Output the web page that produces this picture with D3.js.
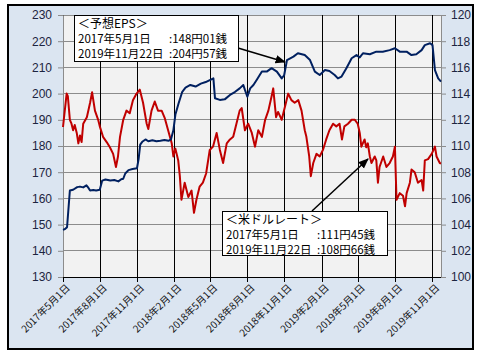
<!DOCTYPE html>
<html><head><meta charset="utf-8">
<script src="https://cdn.jsdelivr.net/npm/d3@7"></script>
<style>html,body{margin:0;padding:0;background:#fff;}svg{display:block;}</style>
</head><body>
<svg id="c" width="480" height="360"></svg>
<script>
// ---- data ----
const xTickDates = ["2017-05-01","2017-08-01","2017-11-01","2018-02-01","2018-05-01","2018-08-01","2018-11-01","2019-02-01","2019-05-01","2019-08-01","2019-11-01"];
const xTickLabels = ["2017年5月1日","2017年8月1日","2017年11月1日","2018年2月1日","2018年5月1日","2018年8月1日","2018年11月1日","2019年2月1日","2019年5月1日","2019年8月1日","2019年11月1日"];
const leftTicks = [130,140,150,160,170,180,190,200,210,220,230];
const rightTicks = [100,102,104,106,108,110,112,114,116,118,120];

// 予想EPS (left axis, 円)
const eps = [
["2017-05-01",148.01],["2017-05-06",148.3],["2017-05-11",149],["2017-05-14",155],["2017-05-18",163.0],
["2017-05-26",163.3],["2017-06-05",164.3],["2017-06-12",164.5],["2017-06-20",164.2],["2017-06-28",165.0],
["2017-07-03",164.0],["2017-07-07",163.0],["2017-07-15",163.2],["2017-07-22",163.0],["2017-07-31",163.3],
["2017-08-06",166.8],["2017-08-14",167.2],["2017-08-26",166.8],["2017-09-05",167.0],["2017-09-15",166.5],
["2017-09-22",167.3],["2017-09-27",167.5],["2017-10-02",169.5],["2017-10-10",170.8],["2017-10-20",171.2],
["2017-10-31",171.5],["2017-11-04",175],["2017-11-08",180.5],["2017-11-13",181.6],["2017-11-21",182.5],
["2017-11-28",181.8],["2017-12-08",182.2],["2017-12-18",181.8],["2017-12-28",182.0],["2018-01-07",182.3],
["2018-01-17",182.0],["2018-01-23",182.5],["2018-01-29",186],["2018-02-03",192],["2018-02-11",196.3],
["2018-02-20",200.7],["2018-02-28",202.3],["2018-03-12",203.3],["2018-03-25",202.7],["2018-04-07",203.8],
["2018-04-19",204.4],["2018-05-08",205.8],["2018-05-12",198.2],["2018-05-24",197.6],["2018-06-05",197.8],
["2018-06-18",199.5],["2018-06-30",200.6],["2018-07-12",202.0],["2018-07-21",203.3],["2018-07-25",201.4],
["2018-07-31",198.8],["2018-08-07",202.0],["2018-08-15",203.3],["2018-08-23",205.2],["2018-09-05",208.4],
["2018-09-17",208.4],["2018-09-29",209.7],["2018-10-12",208.4],["2018-10-24",205.8],["2018-10-30",207.0],
["2018-11-06",212.8],["2018-11-22",214.1],["2018-12-03",215.4],["2018-12-20",214.7],["2019-01-02",212.8],
["2019-01-14",208.4],["2019-01-26",207.1],["2019-02-08",209.0],["2019-02-19",208.6],["2019-03-04",207.1],
["2019-03-12",205.8],["2019-03-21",206.5],["2019-04-02",209.7],["2019-04-15",213.5],["2019-04-27",214.7],
["2019-05-05",213.8],["2019-05-13",215.4],["2019-05-30",215.0],["2019-06-15",216.0],["2019-07-01",216.0],
["2019-07-18",216.6],["2019-07-31",217.3],["2019-08-12",216.0],["2019-08-29",216.0],["2019-09-10",214.7],
["2019-09-22",215.0],["2019-10-05",216.6],["2019-10-13",218.5],["2019-10-26",219.2],["2019-11-01",218.5],
["2019-11-07",209.0],["2019-11-15",205.8],["2019-11-22",204.57]
];

// 米ドルレート (right axis, 円)
const usdjpy = [
["2017-05-01",111.45],["2017-05-10",114.0],["2017-05-13",113.8],["2017-05-18",112.0],["2017-05-22",111.7],
["2017-05-26",111.2],["2017-05-30",111.6],["2017-06-04",111.0],["2017-06-08",110.2],["2017-06-12",110.8],
["2017-06-16",110.3],["2017-06-20",111.7],["2017-06-29",112.2],["2017-07-07",113.3],["2017-07-12",114.1],
["2017-07-19",112.7],["2017-07-27",112.0],["2017-07-31",111.5],["2017-08-08",110.7],["2017-08-17",110.3],
["2017-08-25",109.9],["2017-09-02",109.4],["2017-09-09",108.4],["2017-09-14",109.2],["2017-09-19",110.7],
["2017-09-27",112.0],["2017-10-05",112.7],["2017-10-13",112.5],["2017-10-21",113.5],["2017-10-30",114.0],
["2017-11-07",114.3],["2017-11-15",113.3],["2017-11-24",111.7],["2017-11-28",111.3],["2017-12-06",112.7],
["2017-12-14",113.4],["2017-12-22",112.7],["2017-12-31",112.7],["2018-01-08",112.1],["2018-01-16",111.2],
["2018-01-25",110.2],["2018-01-29",109.2],["2018-02-03",109.8],["2018-02-10",108.9],["2018-02-14",107.7],
["2018-02-18",105.9],["2018-02-26",107.2],["2018-03-07",106.1],["2018-03-15",106.6],["2018-03-21",104.9],
["2018-03-27",105.9],["2018-04-04",106.9],["2018-04-12",107.2],["2018-04-20",107.9],["2018-04-29",109.7],
["2018-05-07",109.95],["2018-05-16",111.0],["2018-05-24",109.7],["2018-06-01",108.7],["2018-06-10",110.2],
["2018-06-18",110.5],["2018-06-26",110.7],["2018-07-04",111.7],["2018-07-12",112.7],["2018-07-17",112.9],
["2018-07-25",111.2],["2018-08-02",111.7],["2018-08-11",111.0],["2018-08-19",109.95],["2018-08-27",111.2],
["2018-09-05",110.7],["2018-09-13",112.0],["2018-09-21",112.7],["2018-09-29",113.8],["2018-10-03",114.4],
["2018-10-10",112.2],["2018-10-15",112.6],["2018-10-24",112.0],["2018-11-01",113.0],["2018-11-09",114.0],
["2018-11-17",113.5],["2018-11-25",113.3],["2018-12-04",113.5],["2018-12-12",112.7],["2018-12-20",111.2],
["2018-12-24",110.7],["2018-12-31",109.2],["2019-01-04",107.7],["2019-01-10",108.7],["2019-01-18",109.4],
["2019-01-26",109.2],["2019-02-03",109.7],["2019-02-11",110.5],["2019-02-19",111.2],["2019-02-28",111.7],
["2019-03-08",111.5],["2019-03-16",111.7],["2019-03-22",110.5],["2019-03-28",111.5],["2019-04-06",111.7],
["2019-04-15",112.0],["2019-04-23",112.0],["2019-04-30",111.7],["2019-05-05",111.0],["2019-05-09",109.95],
["2019-05-17",110.5],["2019-05-21",109.9],["2019-05-25",110.2],["2019-05-30",109.2],["2019-06-03",108.7],
["2019-06-11",109.2],["2019-06-15",108.9],["2019-06-19",107.2],["2019-06-23",108.4],["2019-07-02",109.2],
["2019-07-10",108.4],["2019-07-18",108.7],["2019-07-26",109.2],["2019-07-31",109.95],["2019-08-04",105.9],
["2019-08-12",106.4],["2019-08-20",106.2],["2019-08-25",105.4],["2019-08-29",106.4],["2019-09-06",107.2],
["2019-09-10",108.2],["2019-09-18",108.0],["2019-09-26",107.2],["2019-10-05",107.4],["2019-10-09",106.6],
["2019-10-13",108.9],["2019-10-21",109.0],["2019-10-30",109.4],["2019-11-07",109.95],["2019-11-11",109.2],
["2019-11-19",108.7],["2019-11-22",108.66]
];

const epsLegend = ["＜予想EPS＞", ["2017年5月1日", ":148円01銭"], ["2019年11月22日", ":204円57銭"]];
const fxLegend = ["＜米ドルレート＞", ["2017年5月1日", ":111円45銭"], ["2019年11月22日", ":108円66銭"]];

// ---- drawing ----
const parse = d3.timeParse("%Y-%m-%d");
const svg = d3.select("#c");
const P = {l:63, r:441, t:15, b:277};

svg.append("rect").attr("x",8).attr("y",5).attr("width",465).attr("height",344)
  .attr("fill","#dbe5f1").attr("stroke","#000").attr("stroke-width",2);
svg.append("rect").attr("x",P.l).attr("y",P.t).attr("width",P.r-P.l).attr("height",P.b-P.t)
  .attr("fill","#f2f2f2");

const x = d3.scaleTime().domain([parse("2017-05-01"), parse("2019-11-22")]).range([P.l, P.r]);
const yL = d3.scaleLinear().domain([130,230]).range([P.b, P.t]);
const yR = d3.scaleLinear().domain([100,120]).range([P.b, P.t]);

// horizontal grid
svg.append("g").selectAll("line").data(leftTicks).join("line")
  .attr("x1",P.l).attr("x2",P.r).attr("y1",d=>yL(d)).attr("y2",d=>yL(d))
  .attr("stroke","#8c8c8c").attr("stroke-width",1).attr("shape-rendering","crispEdges");

// vertical grid (black)
const xt = xTickDates.map(parse);
svg.append("g").selectAll("line").data(xt).join("line")
  .attr("x1",d=>x(d)).attr("x2",d=>x(d)).attr("y1",P.t).attr("y2",P.b+5)
  .attr("stroke","#000").attr("stroke-width",1).attr("shape-rendering","crispEdges");

// axes
const axL = d3.axisLeft(yL).tickValues(leftTicks).tickSize(5).tickPadding(6);
const gL = svg.append("g").attr("transform",`translate(${P.l},0)`).call(axL);
const axR = d3.axisRight(yR).tickValues(rightTicks).tickSize(5).tickPadding(5);
const gR = svg.append("g").attr("transform",`translate(${P.r},0)`).call(axR);
[gL,gR].forEach(g=>{
  g.select(".domain").attr("stroke","#8c8c8c");
  g.selectAll(".tick line").attr("stroke","#8c8c8c");
  g.selectAll("text").attr("font-family","Liberation Sans, Arial, sans-serif")
   .attr("font-size",12).attr("fill","#1c2440");
});
svg.append("line").attr("x1",P.l).attr("x2",P.r).attr("y1",P.b).attr("y2",P.b)
  .attr("stroke","#000").attr("stroke-width",1).attr("shape-rendering","crispEdges");

// x labels
svg.append("g").selectAll("text").data(xt).join("text")
  .attr("transform",d=>`translate(${x(d)+5},${P.b+9}) rotate(-45)`)
  .attr("text-anchor","end").attr("dy","0.35em")
  .attr("font-family","Noto Sans CJK JP, sans-serif").attr("font-size",10)
  .attr("fill","#111")
  .text((d,i)=>xTickLabels[i]);

// lines
const lineL = d3.line().x(d=>x(parse(d[0]))).y(d=>yL(d[1]));
const lineR = d3.line().x(d=>x(parse(d[0]))).y(d=>yR(d[1]));
svg.append("path").attr("d",lineR(usdjpy)).attr("fill","none").attr("stroke","#c00000")
  .attr("stroke-width",2).attr("stroke-linejoin","round");
svg.append("path").attr("d",lineL(eps)).attr("fill","none").attr("stroke","#002060")
  .attr("stroke-width",2).attr("stroke-linejoin","round");

// arrows
const defs = svg.append("defs");
defs.append("marker").attr("id","ah").attr("viewBox","0 0 10 10").attr("refX",9).attr("refY",5)
  .attr("markerWidth",7).attr("markerHeight",7).attr("orient","auto-start-reverse")
  .append("path").attr("d","M0,1 L10,5 L0,9 z").attr("fill","#000");
svg.append("line").attr("x1",238).attr("y1",48).attr("x2",285).attr("y2",62)
  .attr("stroke","#000").attr("stroke-width",1.5).attr("marker-end","url(#ah)");
svg.append("line").attr("x1",312).attr("y1",211).attr("x2",368).attr("y2",159)
  .attr("stroke","#000").attr("stroke-width",1.5).attr("marker-end","url(#ah)");

// legend boxes
function legend(bx,by,bw,bh,lines,tx,vx){
  const g = svg.append("g");
  g.append("rect").attr("x",bx).attr("y",by).attr("width",bw).attr("height",bh)
    .attr("fill","#fff").attr("stroke","#000").attr("stroke-width",1).attr("shape-rendering","crispEdges");
  const f = "Noto Sans CJK JP, sans-serif";
  g.append("text").attr("x",tx).attr("y",by+13).attr("font-family",f).attr("font-size",12).attr("fill","#000").text(lines[0]);
  [lines[1],lines[2]].forEach((l,i)=>{
    g.append("text").attr("x",tx).attr("y",by+28+i*14.5).attr("font-family",f).attr("font-size",11.5).attr("fill","#000").text(l[0]);
    g.append("text").attr("x",vx).attr("y",by+28+i*14.5).attr("font-family",f).attr("font-size",11.5).attr("fill","#000").text(l[1]);
  });
}
legend(74,15,164,46,epsLegend,78,169);
legend(222,211,165,44,fxLegend,226,317);
</script>
</body></html>
